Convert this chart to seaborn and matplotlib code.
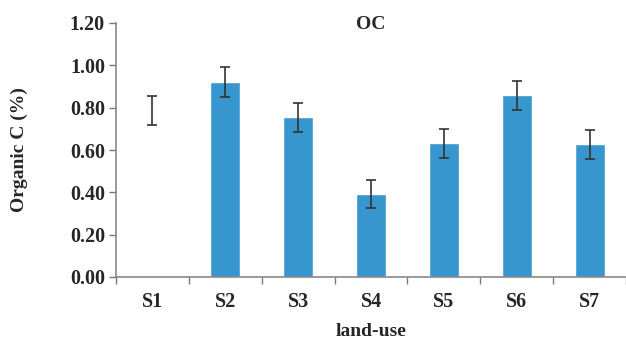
import matplotlib
matplotlib.use("Agg")
import matplotlib.pyplot as plt
import seaborn as sns
import pandas as pd
import numpy as np

categories = ["S1", "S2", "S3", "S4", "S5", "S6", "S7"]
values = [0.787, 0.92, 0.755, 0.392, 0.632, 0.858, 0.627]
errors = [0.068, 0.07, 0.068, 0.068, 0.068, 0.068, 0.068]
yticks = [0.0, 0.2, 0.4, 0.6, 0.8, 1.0, 1.2]

sns.set_theme(style="white")
plt.rcParams['font.family'] = ['Liberation Serif', 'DejaVu Serif']
plt.rcParams['font.weight'] = 'bold'

df = pd.DataFrame({"land-use": categories, "oc": values})
colors = ["#ffffff"] + ["#3896cf"] * 6

fig = plt.figure(figsize=(6.26, 3.41), dpi=100)
ax = fig.add_axes([116/626, 1 - 277/341, 1 - 116/626, (277 - 23)/341])
sns.barplot(data=df, x="land-use", y="oc", hue="land-use", palette=colors,
            legend=False, width=0.41, ax=ax, errorbar=None, saturation=1)
ax.errorbar(np.arange(len(categories)), values, yerr=errors, fmt="none",
            ecolor="#333333", elinewidth=1.2, capsize=3.5, capthick=1.2)

ax.set_xlim(-0.5, 6.5)
ax.set_ylim(0, 1.2)
ax.set_yticks(yticks)
ax.set_yticklabels([f"{t:.2f}" for t in yticks], fontsize=14.5, fontweight='bold')
ax.set_xticks(np.arange(len(categories)))
ax.set_xticklabels(categories, fontsize=14.5, fontweight='bold')
ax.set_xticks(np.arange(len(categories) + 1) - 0.5, minor=True)
ax.tick_params(axis='x', which='major', length=0, pad=11)
ax.tick_params(axis='x', which='minor', length=5, color="#777777", width=1, direction='out', bottom=True)
ax.tick_params(axis='y', length=5, color="#777777", width=1, direction='out', left=True, pad=3)
for s in ["top", "right"]:
    ax.spines[s].set_visible(False)
for s in ["left", "bottom"]:
    ax.spines[s].set_color("#888888")
    ax.spines[s].set_linewidth(1.2)
ax.set_xlabel("land-use", fontsize=14, fontweight='bold', labelpad=8)
ax.set_ylabel("Organic C (%)", fontsize=14, fontweight='bold', labelpad=30)
ax.set_title("OC", fontsize=14, fontweight='bold', pad=-4, y=1.0)
ax.grid(False)
fig.savefig("out.png", dpi=100)
